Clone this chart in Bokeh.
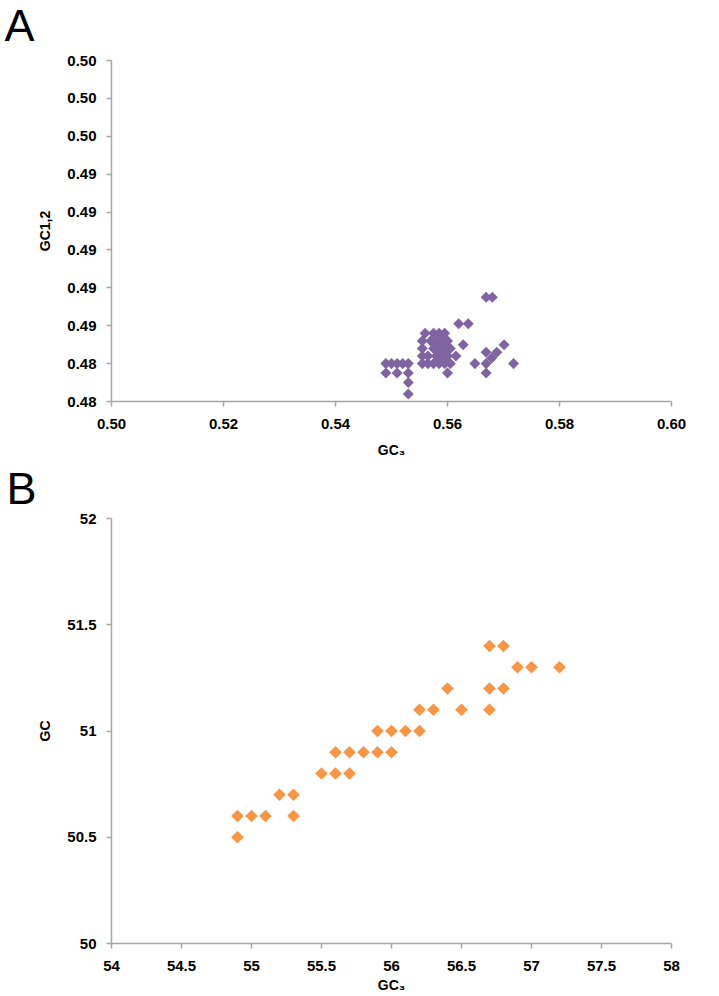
from bokeh.plotting import figure
from bokeh.layouts import column
from bokeh.models import FixedTicker, NumeralTickFormatter, Range1d, Label
from bokeh.embed import file_html
from bokeh.resources import INLINE

# ---------------- Panel A data ----------------
gc3_a = [
    0.5490, 0.5500, 0.5510, 0.5520, 0.5530,
    0.5490, 0.5510, 0.5530,
    0.5530, 0.5530,
    0.5560, 0.5575, 0.5585, 0.5595,
    0.5555, 0.5570, 0.5580, 0.5590, 0.5600,
    0.5555, 0.5575, 0.5585, 0.5595, 0.5605,
    0.5555, 0.5565, 0.5580, 0.5590, 0.5600, 0.5615,
    0.5555, 0.5565, 0.5575, 0.5585, 0.5595, 0.5605,
    0.5600,
    0.5628, 0.5620, 0.5637,
    0.5669, 0.5680,
    0.5701, 0.5669, 0.5688, 0.5679, 0.5649, 0.5669, 0.5718, 0.5669,
]
gc12_a = [
    0.4840, 0.4840, 0.4840, 0.4840, 0.4840,
    0.4835, 0.4835, 0.4835,
    0.4830, 0.4824,
    0.4856, 0.4856, 0.4856, 0.4856,
    0.4852, 0.4852, 0.4852, 0.4852, 0.4852,
    0.4848, 0.4848, 0.4848, 0.4848, 0.4848,
    0.4844, 0.4844, 0.4844, 0.4844, 0.4844, 0.4844,
    0.4840, 0.4840, 0.4840, 0.4840, 0.4840, 0.4840,
    0.4835,
    0.4850, 0.4861, 0.4861,
    0.4875, 0.4875,
    0.4850, 0.4846, 0.4846, 0.4843, 0.4840, 0.4840, 0.4840, 0.4835,
]
a_xticks = [0.50, 0.52, 0.54, 0.56, 0.58, 0.60]
a_yticks = [0.482, 0.484, 0.486, 0.488, 0.490, 0.492, 0.494, 0.496, 0.498, 0.500]

# ---------------- Panel B data ----------------
gc3_b = [54.9, 55.0, 55.1, 55.2, 55.3, 55.3, 54.9,
         55.5, 55.6, 55.7,
         55.6, 55.7, 55.8, 55.9, 56.0,
         55.9, 56.0, 56.1, 56.2,
         56.2, 56.3, 56.5, 56.7,
         56.4, 56.7, 56.8,
         56.9, 57.0, 57.2,
         56.7, 56.8]
gc_b = [50.6, 50.6, 50.6, 50.7, 50.7, 50.6, 50.5,
        50.8, 50.8, 50.8,
        50.9, 50.9, 50.9, 50.9, 50.9,
        51.0, 51.0, 51.0, 51.0,
        51.1, 51.1, 51.1, 51.1,
        51.2, 51.2, 51.2,
        51.3, 51.3, 51.3,
        51.4, 51.4]
b_xticks = [54, 54.5, 55, 55.5, 56, 56.5, 57, 57.5, 58]
b_yticks = [50, 50.5, 51, 51.5, 52]

PURPLE = "#8064A2"
ORANGE = "#F79646"
AXIS = "#A6A6A6"
FONT = "Liberation Sans"


def style(p, xlab, ylab, xfmt, yfmt, xticks, yticks, xstand, xlabstand):
    p.grid.visible = False
    p.outline_line_color = None
    p.background_fill_color = "white"
    p.border_fill_color = "white"
    p.xaxis.axis_label = xlab
    p.yaxis.axis_label = ylab
    p.xaxis.ticker = FixedTicker(ticks=xticks)
    p.yaxis.ticker = FixedTicker(ticks=yticks)
    p.xaxis.formatter = NumeralTickFormatter(format=xfmt)
    p.yaxis.formatter = NumeralTickFormatter(format=yfmt)
    for ax in (p.xaxis[0], p.yaxis[0]):
        ax.axis_line_color = AXIS
        ax.axis_line_width = 1.5
        ax.major_tick_line_color = AXIS
        ax.major_tick_line_width = 1.5
        ax.major_tick_in = 0
        ax.major_tick_out = 5
        ax.minor_tick_line_color = None
        ax.major_label_text_font = FONT
        ax.major_label_text_font_style = "bold"
        ax.major_label_text_font_size = "15px"
        ax.major_label_text_color = "black"
        ax.axis_label_text_font = FONT
        ax.axis_label_text_font_style = "bold"
        ax.axis_label_text_font_size = "14px"
        ax.axis_label_text_color = "black"
    p.yaxis.major_label_standoff = 10
    p.yaxis.axis_label_standoff = 11
    p.xaxis.major_label_standoff = xstand
    p.xaxis.axis_label_standoff = xlabstand


def panel_letter(p, letter, x, y):
    # placed in the left side panel so that it is not clipped to the frame
    p.add_layout(Label(x=x, y=y, x_units="screen", y_units="screen", text=letter,
                       text_font="Liberation Sans", text_font_size="45px",
                       text_font_style="normal", text_color="black",
                       text_baseline="alphabetic", text_align="left"), "left")


# ---------------- Figure A ----------------
pA = figure(width=719, height=460, output_backend="svg", toolbar_location=None,
            x_range=Range1d(0.50, 0.60), y_range=Range1d(0.482, 0.500),
            min_border_left=111, min_border_right=48, min_border_top=60,
            min_border_bottom=57)
style(pA, "GC\u2083", "GC1,2", "0.00", "0.00", a_xticks, a_yticks, 12, 10)
panel_letter(pA, "A", 0, 376)
pA.scatter(gc3_a, gc12_a, marker="square", angle=0.785398, size=7.8,
           fill_color=PURPLE, line_color=None)

# ---------------- Figure B ----------------
pB = figure(width=719, height=535, output_backend="svg", toolbar_location=None,
            x_range=Range1d(54, 58), y_range=Range1d(50, 52),
            min_border_left=111, min_border_right=9, min_border_top=58,
            min_border_bottom=50)
style(pB, "GC\u2083", "GC", "0.[0]", "0.[0]", b_xticks, b_yticks, 12, 3)
panel_letter(pB, "B", 2, 455)
pB.scatter(gc3_b, gc_b, marker="square", angle=0.785398, size=9,
           fill_color=ORANGE, line_color=None)

layout = column(pA, pB, spacing=0)
open("out.html", "w").write(file_html(layout, INLINE))
